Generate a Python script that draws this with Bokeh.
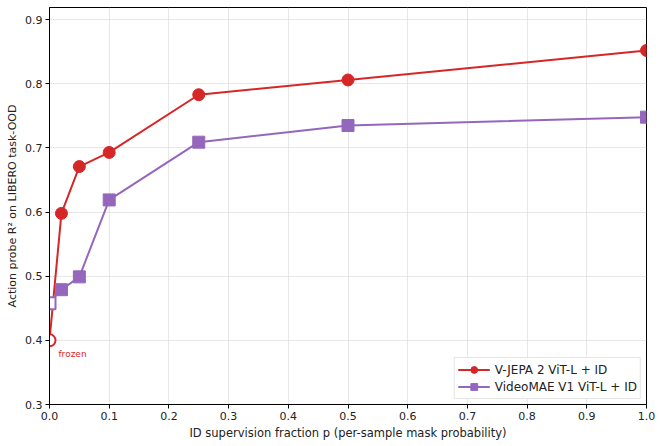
from bokeh.plotting import figure
from bokeh.models import Range1d, Legend, LegendItem, FixedTicker
from bokeh.core.properties import value
from bokeh.embed import file_html
from bokeh.resources import INLINE

# Data
p_vals = [0.02, 0.05, 0.10, 0.25, 0.50, 1.00]
vjepa = [0.598, 0.671, 0.693, 0.783, 0.806, 0.852]
videomae = [0.479, 0.499, 0.619, 0.709, 0.735, 0.748]
frozen_p = 0.0
vjepa_frozen = 0.400
videomae_frozen = 0.458

RED = "#d62728"
PURPLE = "#9467bd"
FONT = "DejaVu Sans"

p = figure(width=660, height=446, output_backend="svg", toolbar_location=None,
           x_range=Range1d(0, 1.0), y_range=Range1d(0.3, 0.919),
           min_border_left=49, min_border_right=14, min_border_top=7, min_border_bottom=42)

p.background_fill_color = "white"
p.border_fill_color = "white"
p.outline_line_color = "black"
p.outline_line_width = 1

for ax in (p.xaxis[0], p.yaxis[0]):
    ax.major_label_text_font = FONT
    ax.major_label_text_font_size = "11px"
    ax.major_label_text_color = "#222222"
    ax.axis_label_text_font = FONT
    ax.axis_label_text_font_style = "normal"
    ax.axis_label_text_color = "#222222"
    ax.minor_tick_line_color = None
    ax.major_tick_in = 0
    ax.major_tick_out = 4
    ax.axis_line_color = "black"
    ax.major_tick_line_color = "black"
    ax.axis_label_standoff = 3
    ax.major_label_standoff = 3

p.xaxis.axis_label_text_font_size = "11.5px"
p.yaxis.axis_label_text_font_size = "11px"
p.xaxis.ticker = FixedTicker(ticks=[0.0, 0.1, 0.2, 0.3, 0.4, 0.5, 0.6, 0.7, 0.8, 0.9, 1.0])
p.yaxis.ticker = FixedTicker(ticks=[0.3, 0.4, 0.5, 0.6, 0.7, 0.8, 0.9])
p.xaxis.axis_label = "ID supervision fraction p (per-sample mask probability)"
p.yaxis.axis_label = "Action probe R² on LIBERO task-OOD"
p.xaxis.major_label_overrides = {0.0: "0.0", 1.0: "1.0"}

p.xgrid.grid_line_color = "#dddddd"
p.ygrid.grid_line_color = "#dddddd"
p.xgrid.grid_line_alpha = 0.7
p.ygrid.grid_line_alpha = 0.7

vj_x = [frozen_p] + p_vals
vj_y = [vjepa_frozen] + vjepa
vm_x = [frozen_p] + p_vals
vm_y = [videomae_frozen] + videomae

l1 = p.line(vj_x, vj_y, line_color=RED, line_width=2)
l2 = p.line(vm_x, vm_y, line_color=PURPLE, line_width=2)
s1 = p.scatter(p_vals, vjepa, marker="circle", size=12, fill_color=RED, line_color=RED)
s2 = p.scatter(p_vals, videomae, marker="square", size=12, fill_color=PURPLE, line_color=PURPLE)
p.scatter([frozen_p], [vjepa_frozen], marker="circle", size=12, fill_color="white",
          line_color=RED, line_width=2)
p.scatter([frozen_p], [videomae_frozen], marker="square", size=12, fill_color="white",
          line_color=PURPLE, line_width=2)

p.text(x=[0.015], y=[0.3795], text=["frozen"], text_font=value(FONT),
       text_font_size="9px", text_color=RED, text_baseline="middle", text_align="left")

legend = Legend(items=[
    LegendItem(label="V-JEPA 2 ViT-L + ID", renderers=[l1, s1]),
    LegendItem(label="VideoMAE V1 ViT-L + ID", renderers=[l2, s2]),
], location="bottom_right")
legend.label_text_font = FONT
legend.label_text_font_size = "12px"
legend.label_text_color = "#222222"
legend.border_line_color = "#cccccc"
legend.border_line_width = 1
legend.margin = 5
legend.padding = 3
legend.spacing = 0
legend.glyph_width = 32
legend.label_height = 17
legend.glyph_height = 17
legend.label_standoff = 5
p.add_layout(legend, "center")

open("out.html", "w").write(file_html(p, INLINE))
